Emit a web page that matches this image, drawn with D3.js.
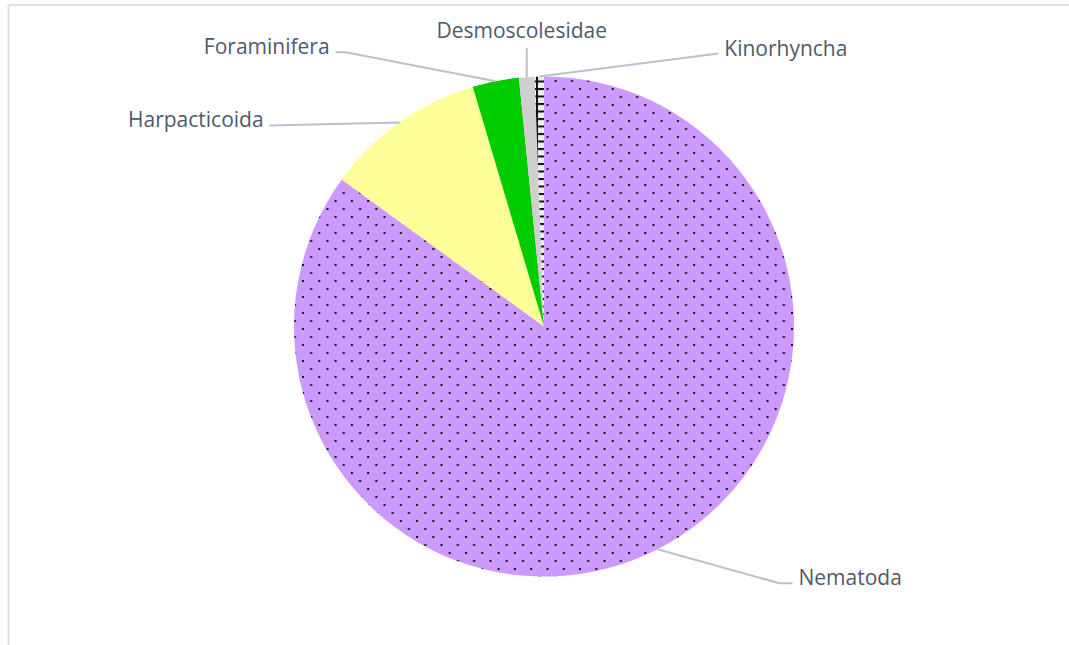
<!DOCTYPE html>
<html>
<head>
<meta charset="utf-8">
<script src="https://cdn.jsdelivr.net/npm/d3@7"></script>
<style>
  html, body { margin: 0; padding: 0; background: #fff; }
  svg { display: block; }
</style>
</head>
<body>
<div id="chart"></div>
<script>
// data
var categories = ['Nematoda', 'Harpacticoida', 'Foraminifera', 'Desmoscolesidae', 'Kinorhyncha'];
var values = [85.0, 10.4, 3.0, 1.0, 0.6];
var fills = ['url(#dots)', '#ffff99', '#00cc00', '#d0cece', 'url(#ladder)'];

// where each label sits, relative to the point where its leader leaves the pie
var label_layout = {
    'Nematoda':        { elbow: [122, 34], run: 13, side: 'right' },
    'Harpacticoida':   { elbow: [-130, 3], run: 0, side: 'left' },
    'Foraminifera':    { elbow: [-150, -29], run: -10, side: 'left' },
    'Desmoscolesidae': { elbow: [0, -29], run: 0, side: 'top' },
    'Kinorhyncha':     { elbow: [179, -23], run: 0, side: 'right' }
};

var width = 1069;
var height = 645;
var cx = 544, cy = 326.5;
var radius = 250;

var svg = d3.select('#chart')
    .append('svg')
    .attr('width', width)
    .attr('height', height);

// chart area border (only top and left show in the crop)
svg.append('rect')
    .attr('x', 8.5)
    .attr('y', 5)
    .attr('width', 1200)
    .attr('height', 800)
    .attr('fill', 'none')
    .attr('stroke', '#dbe1ea')
    .attr('stroke-width', 2);

var defs = svg.append('defs');

var dots = defs.append('pattern')
    .attr('id', 'dots')
    .attr('patternUnits', 'userSpaceOnUse')
    .attr('width', 16.3)
    .attr('height', 16)
    .attr('patternTransform', 'translate(2.5, 1.5)');
dots.append('rect').attr('width', 16.3).attr('height', 16).attr('fill', '#cc99ff');
dots.append('rect').attr('x', 0).attr('y', 0).attr('width', 2).attr('height', 2).attr('fill', '#111');
dots.append('rect').attr('x', 8.15).attr('y', 8).attr('width', 2).attr('height', 2).attr('fill', '#111');

var ladder = defs.append('pattern')
    .attr('id', 'ladder')
    .attr('patternUnits', 'userSpaceOnUse')
    .attr('width', 20)
    .attr('height', 7.5)
    .attr('patternTransform', 'translate(-14, 1.5)');
ladder.append('rect').attr('width', 20).attr('height', 7.5).attr('fill', '#eeeeee');
ladder.append('rect').attr('x', 6).attr('y', 0).attr('width', 2).attr('height', 7.5).attr('fill', '#111');
ladder.append('rect').attr('x', 0).attr('y', 0).attr('width', 20).attr('height', 2).attr('fill', '#111');

var data = categories.map(function(c, i) {
    return { name: c, value: values[i], fill: fills[i] };
});

var pie = d3.pie()
    .sort(null)
    .value(function(d) { return d.value; });

var arc = d3.arc()
    .innerRadius(0)
    .outerRadius(radius);

var arcs = pie(data);

var pie_group = svg.append('g')
    .attr('transform', `translate(${cx}, ${cy})`);

pie_group.selectAll('path.slice')
    .data(arcs)
    .enter()
    .append('path')
    .attr('class', 'slice')
    .attr('d', arc)
    .attr('fill', function(d) { return d.data.fill; })
    .attr('stroke', 'none');

// leader lines and labels
var label_group = pie_group.append('g');

arcs.forEach(function(d) {
    var mid = (d.startAngle + d.endAngle) / 2;
    var sx = radius * Math.sin(mid);
    var sy = -radius * Math.cos(mid);
    var lay = label_layout[d.data.name];
    var ex = sx + lay.elbow[0];
    var ey = sy + lay.elbow[1];
    var pts = [[sx, sy], [ex, ey]];
    if (lay.run !== 0) pts.push([ex + lay.run, ey]);

    label_group.append('path')
        .attr('d', d3.line()(pts))
        .attr('fill', 'none')
        .attr('stroke', '#b8c1cc')
        .attr('stroke-width', 2);

    var end = pts[pts.length - 1];
    var t = label_group.append('text')
        .text(d.data.name)
        .attr('fill', '#4f5a69')
        .style('font-family', '"Open Sans", sans-serif')
        .style('font-size', '21px');

    if (lay.side === 'right') {
        t.attr('x', end[0] + 6).attr('y', end[1] + 2).attr('text-anchor', 'start');
    } else if (lay.side === 'left') {
        t.attr('x', end[0] - 6).attr('y', end[1] + 2).attr('text-anchor', 'end');
    } else {
        t.attr('x', end[0] - 5).attr('y', end[1] - 10).attr('text-anchor', 'middle');
    }
});
</script>
</body>
</html>
